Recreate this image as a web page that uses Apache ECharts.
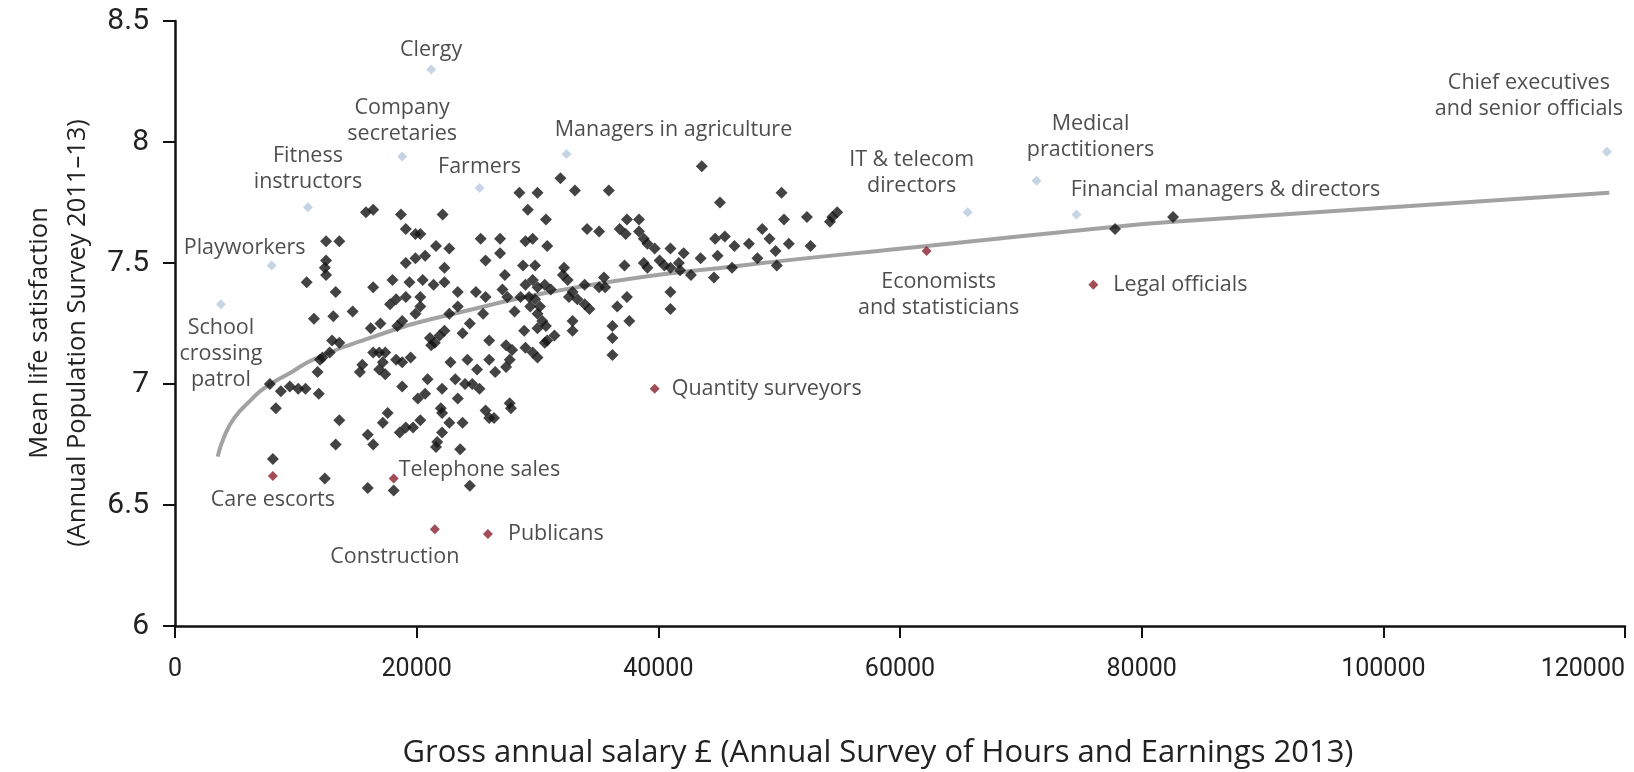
<!DOCTYPE html>
<html>
<head>
<meta charset="utf-8">
<script src="https://cdn.jsdelivr.net/npm/echarts@6/dist/echarts.min.js"></script>
<style>
  html, body { margin: 0; padding: 0; background: #fff; }
  #chart { width: 1634px; height: 772px; }
</style>
</head>
<body>
<div id="chart"></div>
<script>
// tick values
const xTicks = [0, 20000, 40000, 60000, 80000, 100000, 120000];
const yTicks = [6, 6.5, 7, 7.5, 8, 8.5];

// unlabelled occupations [salary, satisfaction]
const otherJobs = [
  [15800, 7.71], [16400, 7.72], [12500, 7.59], [13600, 7.59], [12500, 7.51], [12400, 7.48],
  [12500, 7.45], [10900, 7.42], [13300, 7.38], [16400, 7.40], [14700, 7.30], [11500, 7.27],
  [13100, 7.28], [16200, 7.23], [13000, 7.18], [13600, 7.17], [12800, 7.13], [12200, 7.11],
  [12000, 7.10], [15500, 7.08], [15300, 7.05], [11800, 7.05], [7850, 7.00], [8760, 6.97],
  [9500, 6.99], [10200, 6.98], [10800, 6.98], [11900, 6.96], [8350, 6.90], [13600, 6.85],
  [15950, 6.79], [13300, 6.75], [8100, 6.69], [12400, 6.61], [15950, 6.57],
  [18700, 7.70], [22150, 7.70], [19100, 7.64], [19900, 7.62], [20300, 7.62], [25300, 7.60],
  [21600, 7.57], [22700, 7.56], [25700, 7.51], [19100, 7.50], [19900, 7.52], [20700, 7.53],
  [22300, 7.48], [18000, 7.43], [19400, 7.42], [20500, 7.43], [21400, 7.41], [22300, 7.42],
  [23400, 7.38], [19100, 7.36], [20300, 7.36], [17800, 7.33], [18300, 7.35], [24900, 7.38],
  [25700, 7.36], [19900, 7.29], [20300, 7.32], [22700, 7.29], [23400, 7.32], [25500, 7.29],
  [18800, 7.26], [18400, 7.24], [17000, 7.25], [24400, 7.25], [23800, 7.21], [21100, 7.19],
  [21500, 7.17], [21900, 7.20], [22300, 7.22], [21200, 7.16], [26000, 7.18], [16400, 7.13],
  [16900, 7.13], [17400, 7.13], [18300, 7.10], [18800, 7.09], [19500, 7.11], [16900, 7.06],
  [17400, 7.04], [22800, 7.09], [24200, 7.10], [26000, 7.10], [25000, 7.06], [20900, 7.02],
  [23200, 7.02], [24000, 7.00], [24600, 7.00], [25200, 6.98], [18800, 6.99], [22100, 6.98],
  [20100, 6.94], [20700, 6.96], [23400, 6.94], [22000, 6.90], [22100, 6.88], [25700, 6.89],
  [26000, 6.86], [17600, 6.88], [17200, 6.84], [20300, 6.85], [19100, 6.82], [18600, 6.80],
  [22700, 6.84], [23800, 6.84], [22100, 6.80], [16400, 6.75], [21700, 6.76], [21600, 6.74],
  [23600, 6.73], [18100, 6.56], [24400, 6.58], [17200, 7.09], [19700, 6.82],
  [31900, 7.85], [28500, 7.79], [30000, 7.79], [33100, 7.80], [35900, 7.80], [29200, 7.72],
  [30700, 7.68], [34100, 7.64], [35100, 7.63], [26900, 7.60], [29000, 7.59], [29600, 7.60],
  [30800, 7.57], [26900, 7.54], [28800, 7.49], [29800, 7.49], [32200, 7.48], [27300, 7.45],
  [32500, 7.43], [32100, 7.45], [29600, 7.43], [29000, 7.41], [30000, 7.40], [30600, 7.41],
  [31100, 7.39], [33900, 7.41], [35500, 7.44], [35100, 7.40], [35600, 7.40], [27100, 7.39],
  [27500, 7.36], [28600, 7.36], [29300, 7.36], [32900, 7.38], [32600, 7.36], [33300, 7.35],
  [33900, 7.33], [34300, 7.31], [29800, 7.35], [29400, 7.32], [30200, 7.32], [30000, 7.29],
  [28100, 7.30], [30400, 7.26], [30700, 7.24], [32900, 7.26], [32900, 7.22], [28900, 7.22],
  [30000, 7.23], [31400, 7.20], [30800, 7.18], [30600, 7.17], [36200, 7.24], [27400, 7.16],
  [27900, 7.14], [29000, 7.15], [29600, 7.13], [30000, 7.11], [27700, 7.10], [27400, 7.07],
  [26500, 7.05], [36200, 7.12], [27700, 6.92], [27800, 6.90], [26400, 6.86], [36200, 7.19],
  [43600, 7.90], [45100, 7.75], [37400, 7.68], [38400, 7.68], [36800, 7.64], [37300, 7.62],
  [38400, 7.63], [38800, 7.60], [39100, 7.58], [39700, 7.56], [41000, 7.56], [42100, 7.54],
  [43500, 7.52], [44700, 7.60], [45500, 7.61], [44900, 7.53], [46300, 7.57], [37200, 7.49],
  [38800, 7.50], [39100, 7.48], [40100, 7.51], [40500, 7.49], [41000, 7.48], [41700, 7.50],
  [41800, 7.47], [42700, 7.45], [44600, 7.44], [46100, 7.48], [41000, 7.38], [41000, 7.31],
  [37400, 7.36], [36600, 7.32], [37600, 7.26],
  [50200, 7.79], [50400, 7.68], [52300, 7.69], [54400, 7.69], [54800, 7.71], [54200, 7.67],
  [48600, 7.64], [47500, 7.58], [49200, 7.60], [50800, 7.58], [52600, 7.57], [49700, 7.55],
  [48200, 7.52], [49800, 7.49], [77800, 7.64], [82600, 7.69]
];

// occupations above the curve (light blue)
const highNames = ['Clergy', 'Company\nsecretaries', 'Managers in agriculture', 'Farmers',
  'Fitness\ninstructors', 'Playworkers', 'School\ncrossing\npatrol', 'IT & telecom\ndirectors',
  'Medical\npractitioners', 'Financial managers & directors', 'Chief executives\nand senior officials'];
const highSalary = [21200, 18800, 32400, 25200, 11000, 8000, 3800, 65600, 71300, 74600, 118500];
const highSatisfaction = [8.30, 7.94, 7.95, 7.81, 7.73, 7.49, 7.33, 7.71, 7.84, 7.70, 7.96];

// occupations below the curve (dark red)
const lowNames = ['Care escorts', 'Telephone sales', 'Construction', 'Publicans',
  'Quantity surveyors', 'Economists\nand statisticians', 'Legal officials'];
const lowSalary = [8100, 18100, 21500, 25900, 39700, 62200, 76000];
const lowSatisfaction = [6.62, 6.61, 6.40, 6.38, 6.98, 7.55, 7.41];

// fitted curve
const trendSalary = [3530, 4050, 4910, 6210, 7300, 9660, 11400, 16400, 22200, 34500, 46900, 62200, 77800, 82600, 118700];
const trendSatisfaction = [6.70, 6.78, 6.86, 6.93, 6.98, 7.05, 7.10, 7.195, 7.28, 7.41, 7.49, 7.57, 7.65, 7.67, 7.79];

// where each label sits relative to its point: [align, dx, dy]
const labelPlace = {
  'Clergy': ['center', 0, -20],
  'Company\nsecretaries': ['center', 0, -36],
  'Managers in agriculture': ['center', 107, -24],
  'Farmers': ['center', 0, -21],
  'Fitness\ninstructors': ['center', 0, -38],
  'Playworkers': ['center', -27, -18],
  'School\ncrossing\npatrol': ['center', 0, 50],
  'IT & telecom\ndirectors': ['center', -56, -39],
  'Medical\npractitioners': ['center', 54, -44],
  'Financial managers & directors': ['center', 149, -25],
  'Chief executives\nand senior officials': ['center', -78, -56],
  'Care escorts': ['center', 0, 24],
  'Telephone sales': ['left', 5, -9],
  'Construction': ['center', -40, 28],
  'Publicans': ['left', 20, 0],
  'Quantity surveyors': ['left', 17, 0],
  'Economists\nand statisticians': ['center', 12, 44],
  'Legal officials': ['left', 20, 0]
};

function labelled(names, xs, ys) {
  return names.map((n, i) => {
    const p = labelPlace[n];
    return {
      value: [xs[i], ys[i]],
      label: { show: true, formatter: n, position: 'inside', align: p[0], offset: [p[1], p[2]] }
    };
  });
}

const chart = echarts.init(document.getElementById('chart'));
const labelStyle = {
  color: '#222', fontFamily: 'Open Sans', fontSize: 21.5, lineHeight: 26
};

chart.setOption({
  animation: false,
  backgroundColor: '#ffffff',
  grid: { left: 175, right: 9, top: 21, bottom: 146, outerBoundsMode: 'none' },
  graphic: [{
    type: 'text',
    x: 59, y: 333,
    rotation: Math.PI / 2,
    style: {
      text: 'Mean life satisfaction\n(Annual Population Survey 2011–13)',
      fill: '#222', font: '25.5px "Open Sans"', lineHeight: 38,
      align: 'center', verticalAlign: 'middle'
    }
  }],
  xAxis: {
    type: 'value',
    min: xTicks[0], max: xTicks[xTicks.length - 1], interval: 20000,
    name: 'Gross annual salary £ (Annual Survey of Hours and Earnings 2013)',
    nameLocation: 'middle', nameGap: 112,
    nameTextStyle: { color: '#222', fontFamily: 'Open Sans', fontSize: 31, padding: [0, 44, 0, 0] },
    axisLine: { show: true, lineStyle: { color: '#111', width: 2.5 } },
    axisTick: { show: true, length: 12, lineStyle: { color: '#111', width: 2 } },
    axisLabel: { color: '#222', fontFamily: 'Roboto', fontSize: 25, margin: 31, alignMaxLabel: 'right', formatter: v => String(v) },
    splitLine: { show: false }
  },
  yAxis: {
    type: 'value',
    min: yTicks[0], max: yTicks[yTicks.length - 1], interval: 0.5,
    axisLine: { show: true, lineStyle: { color: '#111', width: 2.5 } },
    axisTick: { show: true, length: 12, lineStyle: { color: '#111', width: 2 } },
    axisLabel: { color: '#222', fontFamily: 'Roboto', fontSize: 30, margin: 26 },
    splitLine: { show: false }
  },
  series: [
    {
      type: 'line',
      data: trendSalary.map((x, i) => [x, trendSatisfaction[i]]),
      smooth: true,
      showSymbol: false,
      lineStyle: { color: '#a2a2a2', width: 4 },
      z: 1
    },
    {
      type: 'scatter',
      data: otherJobs,
      symbol: 'diamond',
      symbolSize: [12, 12],
      itemStyle: { color: '#141414' },
      z: 2
    },
    {
      type: 'scatter',
      data: labelled(highNames, highSalary, highSatisfaction),
      symbol: 'diamond',
      symbolSize: [10, 10],
      itemStyle: { color: '#b7cadf' },
      label: labelStyle,
      z: 3
    },
    {
      type: 'scatter',
      data: labelled(lowNames, lowSalary, lowSatisfaction),
      symbol: 'diamond',
      symbolSize: [10, 10],
      itemStyle: { color: '#8a1f2d' },
      label: labelStyle,
      z: 3
    }
  ]
});
</script>
</body>
</html>
